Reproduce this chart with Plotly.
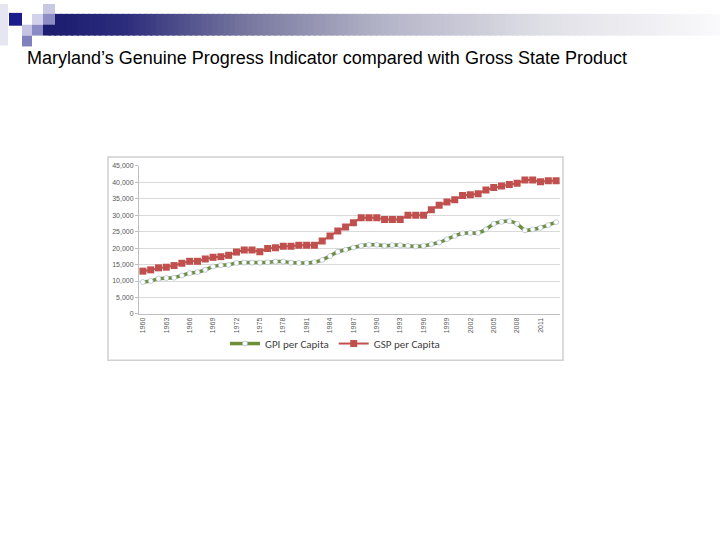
import plotly.graph_objects as go

W, H = 720, 540

years = list(range(1960, 2014))
gsp_per_capita = [13000, 13400, 14000, 14200, 14700, 15400, 16000, 16000, 16700, 17200,
                  17400, 17800, 18800, 19400, 19400, 18900, 19900, 20100, 20600, 20600,
                  20900, 20900, 20900, 22200, 23700, 25200, 26400, 27700, 29200, 29200,
                  29200, 28700, 28700, 28700, 30000, 30000, 30000, 31700, 33000, 34000,
                  34700, 36000, 36200, 36500, 37700, 38400, 38900, 39300, 39700, 40700,
                  40700, 40200, 40500, 40500]
gpi_per_capita = [9700, 10000, 10700, 10900, 11000, 11700, 12400, 12700, 13400, 14400,
                  14800, 14900, 15500, 15600, 15600, 15600, 15700, 15900, 15900, 15600,
                  15500, 15500, 15700, 16400, 17600, 18900, 19500, 20200, 20700, 21000,
                  21000, 20700, 20900, 20900, 20700, 20500, 20700, 21200, 21700, 22700,
                  23700, 24500, 24600, 24600, 25700, 27400, 28000, 28200, 27400, 25400,
                  25700, 26200, 27000, 27900]
x_tick_years = list(range(1960, 2012, 3))
y_ticks = list(range(0, 45001, 5000))

title_text = "Maryland’s Genuine Progress Indicator compared with Gross State Product"


def px(x):
    return x / W


def py(y):
    return 1 - y / H


fig = go.Figure()

fig.add_trace(go.Scatter(
    x=years, y=gpi_per_capita, name="GPI per Capita", mode="lines+markers",
    line=dict(color="#6E8F3A", width=3.5, shape="spline", smoothing=0.8),
    marker=dict(symbol="circle", size=5, color="white", line=dict(color="#9DB0C8", width=0.6)),
))
fig.add_trace(go.Scatter(
    x=years, y=gsp_per_capita, name="GSP per Capita", mode="lines+markers",
    line=dict(color="#C0504D", width=2),
    marker=dict(symbol="square", size=7, color="#C0504D"),
))

shapes = []
# header decorations: left light strip
shapes.append(dict(type="rect", xref="paper", yref="paper", x0=px(0), x1=px(8), y0=py(42), y1=py(0),
                   fillcolor="#E6E6F2", line=dict(width=0), layer="below"))
# gradient bar (navy -> grey-lavender -> white)
n = 120
x_start, x_end = 43, 720
stops = [(0.0, (28, 28, 112)), (0.12, (45, 45, 125)), (0.3, (120, 120, 160)),
         (0.5, (180, 180, 200)), (0.75, (225, 225, 232)), (1.0, (250, 250, 252))]


def grad(t):
    for (t0, c0), (t1, c1) in zip(stops[:-1], stops[1:]):
        if t <= t1:
            f = (t - t0) / (t1 - t0)
            return [int(a + (b - a) * f) for a, b in zip(c0, c1)]
    return list(stops[-1][1])


for i in range(n):
    xa = x_start + (x_end - x_start) * i / n
    xb = x_start + (x_end - x_start) * (i + 1) / n + 2
    r, g, b = grad(i / (n - 1))
    shapes.append(dict(type="rect", xref="paper", yref="paper", x0=px(xa), x1=px(min(xb, 720)),
                       y0=py(32), y1=py(10), fillcolor=f"rgb({r},{g},{b})",
                       line=dict(width=0), layer="below"))
squares = [
    (9, 22, 9, 22, "#1C1C8C"),
    (43, 55, 0, 10, "#C8C8E2"),
    (32, 43, 10, 21, "#D2D2EA"),
    (43, 55, 10, 21, "#8E8EC4"),
    (22, 32, 21, 32, "#C4C4E2"),
    (32, 43, 21, 32, "#8A8AC4"),
    (22, 32, 32, 43, "#8080BE"),
]
for x0, x1, y0, y1, col in squares:
    shapes.append(dict(type="rect", xref="paper", yref="paper", x0=px(x0), x1=px(x1),
                       y0=py(y1), y1=py(y0), fillcolor=col, line=dict(width=0), layer="below"))
# chart image border
shapes.append(dict(type="rect", xref="paper", yref="paper", x0=px(108), x1=px(563),
                   y0=py(361), y1=py(155), fillcolor="rgba(0,0,0,0)",
                   line=dict(color="#D0D0D0", width=1.5), layer="below"))

fig.update_layout(
    width=W, height=H,
    margin=dict(l=0, r=0, t=0, b=0),
    paper_bgcolor="white", plot_bgcolor="white",
    font=dict(family="Liberation Sans, Arial, sans-serif", color="#000000"),
    shapes=shapes,
    showlegend=True,
    legend=dict(orientation="h", x=px(335), y=py(344), xanchor="center", yanchor="middle",
                font=dict(family="Carlito, Calibri, Liberation Sans, sans-serif", size=11, color="#404040"),
                itemwidth=30, bgcolor="rgba(0,0,0,0)", tracegroupgap=0),
    xaxis=dict(domain=[px(139), px(560)], range=[1959.5, 2013.5],
               tickmode="array", tickvals=x_tick_years, ticktext=[str(y) for y in x_tick_years],
               tickangle=-90, tickfont=dict(size=7, color="#595959"),
               showgrid=False, zeroline=False, showline=True, linecolor="#BFBFBF", linewidth=1,
               ticks="", fixedrange=True),
    yaxis=dict(domain=[py(314), py(164)], range=[0, 45000],
               tickmode="array", tickvals=y_ticks, tickformat=",",
               tickfont=dict(size=7, color="#595959"),
               showgrid=True, gridcolor="#D9D9D9", gridwidth=1, zeroline=False,
               showline=True, linecolor="#BFBFBF", ticks="outside", ticklen=3, tickcolor="#BFBFBF",
               fixedrange=True),
    annotations=[dict(text=title_text, xref="paper", yref="paper", x=px(25), y=py(55),
                      xanchor="left", yanchor="middle", showarrow=False,
                      font=dict(family="Liberation Sans, Arial, sans-serif", size=18, color="#000000"))],
)

fig.write_html("out.html", post_script="document.body.style.margin='0';",
               config={"displayModeBar": False})
